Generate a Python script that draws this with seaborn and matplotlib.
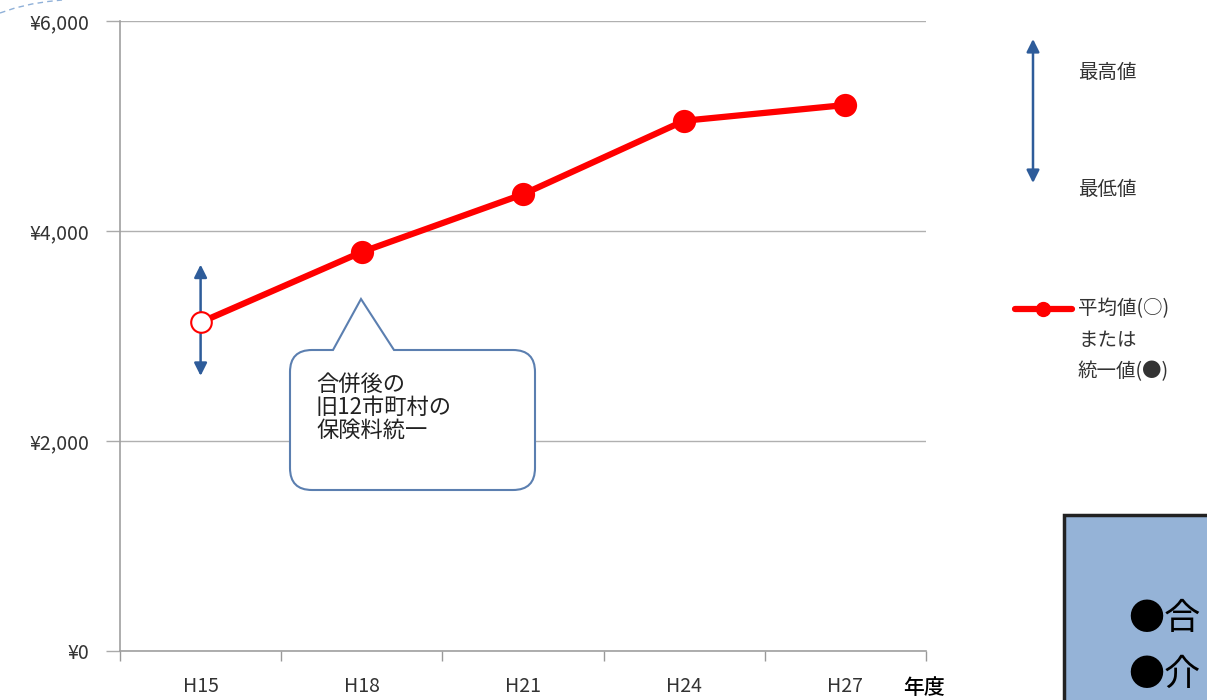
import matplotlib
matplotlib.use("Agg")
import matplotlib.pyplot as plt
import seaborn as sns
import pandas as pd
from matplotlib.path import Path
from matplotlib.patches import PathPatch, Rectangle, FancyArrowPatch
import matplotlib.transforms as mtransforms

# ---- data ----
years = ["H15", "H18", "H21", "H24", "H27"]
avg_premium = [3130, 3800, 4350, 5050, 5200]
unified = [False, True, True, True, True]  # H15 = average (hollow), others unified (filled)
h15_max = 3680
h15_min = 2620
y_ticks = [0, 2000, 4000, 6000]
y_labels = ["¥0", "¥2,000", "¥4,000", "¥6,000"]

sns.set_theme(style="white")
plt.rcParams['font.family'] = ['Noto Sans CJK JP', 'DejaVu Sans']

W, H = 1207, 700
fig = plt.figure(figsize=(W / 100, H / 100), dpi=100)
ax = fig.add_axes([120 / W, 1 - 651 / H, (926 - 120) / W, (651 - 21) / H])

df = pd.DataFrame({"x": range(len(years)), "year": years, "value": avg_premium, "unified": unified})

red = "#ff0000"
blue = "#2e5c9a"

# min-max arrow at H15
ax.annotate("", xy=(0, h15_max), xytext=(0, h15_min),
            arrowprops=dict(arrowstyle="<|-|>", color=blue, lw=1.8, mutation_scale=19,
                            shrinkA=0, shrinkB=0), zorder=2)

sns.lineplot(data=df, x="x", y="value", color=red, linewidth=4.5, ax=ax, zorder=3)
sns.scatterplot(data=df[df.unified], x="x", y="value", color=red, s=280, edgecolor=red,
                linewidth=0, ax=ax, zorder=4)
sns.scatterplot(data=df[~df.unified], x="x", y="value", facecolor="white", s=220,
                edgecolor=red, linewidth=1.5, ax=ax, zorder=4, alpha=1)
ax.collections[-1].set_facecolor((1, 1, 1, 0.6))

ax.set_xlim(-0.5, len(years) - 0.5)
ax.set_ylim(0, 6000)
ax.set_yticks(y_ticks)
ax.set_yticklabels(y_labels)
ax.set_xticks([i - 0.5 for i in range(len(years) + 1)])
ax.set_xticklabels([])
ax.set_xticks(range(len(years)), minor=True)
ax.set_xticklabels(years, minor=True)
ax.tick_params(axis="x", which="major", length=7, color="#999999", width=1, direction="out", bottom=True)
ax.tick_params(axis="x", which="minor", length=0, pad=18, labelsize=14, labelcolor="#333333")
ax.tick_params(axis="y", which="major", length=10, color="#aaaaaa", width=1, pad=12,
               labelsize=14, labelcolor="#333333", left=True)
ax.set_xlabel("")
ax.set_ylabel("")
ax.grid(axis="y", color="#b0b0b0", linewidth=1)
ax.grid(axis="x", visible=False)
for s in ["top", "right"]:
    ax.spines[s].set_visible(False)
for s in ["left", "bottom"]:
    ax.spines[s].set_color("#a0a0a0")
    ax.spines[s].set_linewidth(1.2)

# x-axis unit label
fig.text(903 / W, 1 - 688 / H, "年度", fontsize=15, color="black", va="center", ha="left",
         fontweight="medium")

# pixel transform helper
pix = mtransforms.Affine2D().scale(1 / W, -1 / H).translate(0, 1) + fig.transFigure

# faint dashed curve at top-left corner
fig.add_artist(plt.Line2D([0, 15, 32, 48, 62], [13, 8, 4, 1.5, 0], color="#8fb0d8", lw=1,
                          ls=(0, (4, 3)), transform=pix))

# callout bubble
x0, x1, y0, y1, r = 290, 535, 350, 490, 22
verts = [
    (x0 + r, y0), (333, y0), (361, 299), (394, y0), (x1 - r, y0),
    (x1, y0), (x1, y0 + r),
    (x1, y1 - r),
    (x1, y1), (x1 - r, y1),
    (x0 + r, y1),
    (x0, y1), (x0, y1 - r),
    (x0, y0 + r),
    (x0, y0), (x0 + r, y0),
    (x0 + r, y0),
]
codes = [Path.MOVETO, Path.LINETO, Path.LINETO, Path.LINETO, Path.LINETO,
         Path.CURVE3, Path.CURVE3,
         Path.LINETO,
         Path.CURVE3, Path.CURVE3,
         Path.LINETO,
         Path.CURVE3, Path.CURVE3,
         Path.LINETO,
         Path.CURVE3, Path.CURVE3,
         Path.CLOSEPOLY]
bubble = PathPatch(Path(verts, codes), facecolor="white", edgecolor="#5b7fb0", lw=1.5,
                   transform=pix, zorder=5)
fig.add_artist(bubble)
fig.text(316 / W, 1 - 373 / H, "合併後の\n旧12市町村の\n保険料統一", fontsize=16, color="#222222",
         va="top", ha="left", linespacing=1.0, zorder=6)

# legend: min/max arrow
leg_arrow = FancyArrowPatch((1033, 183), (1033, 39), arrowstyle="<|-|>", color=blue, lw=1.8,
                            mutation_scale=19, transform=pix, shrinkA=0, shrinkB=0)
fig.add_artist(leg_arrow)
fig.text(1078 / W, 1 - 72 / H, "最高値", fontsize=14, color="#333333", va="center", ha="left")
fig.text(1078 / W, 1 - 190 / H, "最低値", fontsize=14, color="#333333", va="center", ha="left")

# legend: red line with marker
fig.add_artist(plt.Line2D([1015 / W, 1072 / W], [1 - 309 / H, 1 - 309 / H], color=red, lw=4.5,
                          transform=fig.transFigure))
fig.add_artist(plt.Line2D([1043 / W], [1 - 309 / H], marker="o", markersize=10, color=red,
                          transform=fig.transFigure))
for i, line in enumerate(["平均値(○)", "または", "統一値(●)"]):
    fig.text(1078 / W, 1 - (309 + 31.5 * i) / H, line, fontsize=14, color="#333333",
             va="center", ha="left")

# bottom-right info box (cut off)
fig.add_artist(Rectangle((1064, 515), 200, 220, facecolor="#95b3d7", edgecolor="#222222",
                         lw=2.5, transform=pix))
fig.text(1128 / W, 1 - 619 / H, "●合", fontsize=26, color="black", va="center", ha="left")
fig.text(1128 / W, 1 - 675 / H, "●介", fontsize=26, color="black", va="center", ha="left")

fig.savefig("out.png", dpi=100)
